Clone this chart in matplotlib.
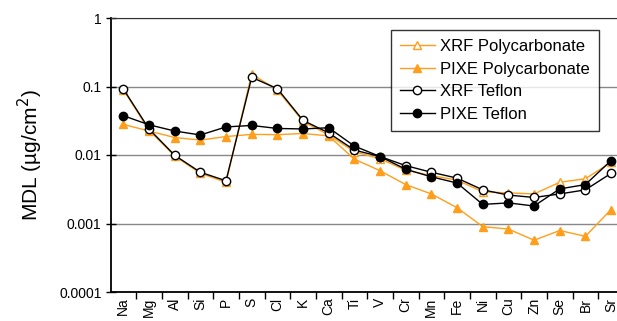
import numpy as np
import matplotlib.pyplot as plt

plt.rcParams['font.family'] = ['Liberation Sans', 'DejaVu Sans']

elements = ['Na', 'Mg', 'Al', 'Si', 'P', 'S', 'Cl', 'K', 'Ca', 'Ti', 'V',
            'Cr', 'Mn', 'Fe', 'Ni', 'Cu', 'Zn', 'Se', 'Br', 'Sr']

xrf_poly = [0.090, 0.023, 0.0097, 0.0054, 0.0040, 0.152, 0.089, 0.031, 0.0196, 0.0112,
            0.0088, 0.0060, 0.0050, 0.0043, 0.0029, 0.0028, 0.0027, 0.0040, 0.0045, 0.0078]
pixe_poly = [0.028, 0.0224, 0.018, 0.0165, 0.0186, 0.020, 0.0198, 0.0206, 0.019, 0.0087,
             0.0059, 0.0037, 0.0027, 0.0017, 0.00090, 0.00083, 0.00057, 0.00079, 0.00065, 0.0016]
xrf_teflon = [0.092, 0.024, 0.0099, 0.0056, 0.0042, 0.136, 0.093, 0.032, 0.021, 0.0118,
              0.0095, 0.0070, 0.0056, 0.0046, 0.0031, 0.0026, 0.0024, 0.0027, 0.0031, 0.0054]
pixe_teflon = [0.0375, 0.0276, 0.0224, 0.0196, 0.0257, 0.027, 0.0244, 0.024, 0.025, 0.0135,
               0.0095, 0.0062, 0.0048, 0.0039, 0.0019, 0.0020, 0.0018, 0.0032, 0.0037, 0.0083]

orange = '#FF9E1B'
x = np.arange(len(elements))

fig = plt.figure(figsize=(6.17, 3.21), dpi=100)
# plot area runs a little past the right edge of the figure
ax = fig.add_axes([110.5 / 617, 29 / 321, 513.4 / 617, 274 / 321])

ax.plot(x, xrf_poly, color=orange, lw=1, marker='^', ms=6, mfc='white', mec=orange,
        label='XRF Polycarbonate')
ax.plot(x, pixe_poly, color=orange, lw=1, marker='^', ms=6, mfc=orange, mec=orange,
        label='PIXE Polycarbonate')
ax.plot(x, xrf_teflon, color='black', lw=1, marker='o', ms=6, mfc='white', mec='black',
        label='XRF Teflon')
ax.plot(x, pixe_teflon, color='black', lw=1, marker='o', ms=6, mfc='black', mec='black',
        label='PIXE Teflon')

ax.set_yscale('log')
ax.set_ylim(0.0001, 1)
ax.set_yticks([0.0001, 0.001, 0.01, 0.1, 1])
ax.set_yticklabels(['0.0001', '0.001', '0.01', '0.1', '1'])
ax.minorticks_off()
ax.yaxis.grid(True, color='#888888', lw=1)
ax.set_axisbelow(True)

ax.set_xlim(-0.5, 19.5)
ax.set_xticks(x)
ax.set_xticklabels(elements, rotation=90, fontsize=10)
ax.set_xticks(x[:-1] + 0.5, minor=True)
ax.tick_params(axis='x', which='major', length=0, pad=4)
ax.tick_params(axis='x', which='minor', length=5, width=1, direction='out')
ax.tick_params(axis='y', labelsize=10, length=7, width=1, direction='inout', pad=3)

ax.spines['right'].set_visible(False)
ax.spines['top'].set_color('#333333')
ax.spines['left'].set_linewidth(1.3)
ax.spines['bottom'].set_linewidth(1.3)

ax.set_ylabel('MDL (µg/cm$^2$)', fontsize=15, labelpad=10)

leg = ax.legend(loc='upper left', bbox_to_anchor=(0.546, 0.956), fontsize=12,
                frameon=True, fancybox=False, edgecolor='black', handlelength=2.1,
                handletextpad=0.3, borderpad=0.55, labelspacing=0.45, borderaxespad=0)
leg.get_frame().set_linewidth(1)

fig.savefig('out.png', dpi=100)
